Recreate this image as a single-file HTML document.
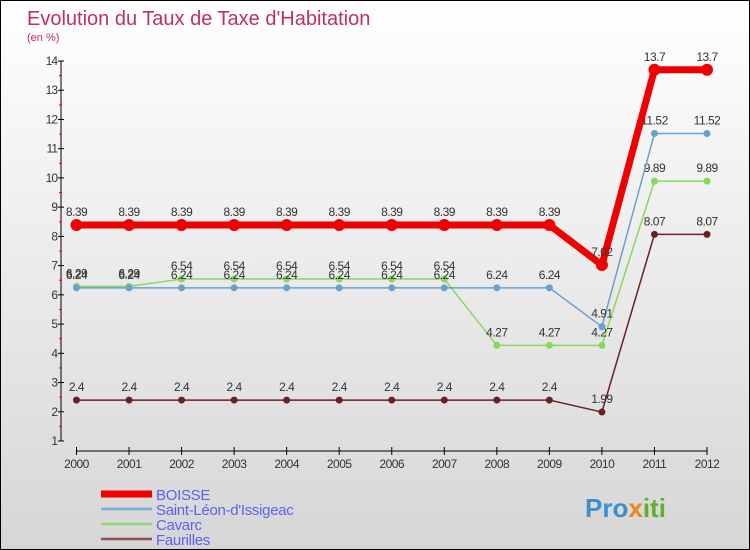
<!DOCTYPE html>
<html><head><meta charset="utf-8"><style>
body{margin:0}
#c{width:750px;height:550px;position:relative;box-sizing:border-box;border:1px solid #000;background:linear-gradient(#ffffff,#d6d6d6);overflow:hidden;font-family:"Liberation Sans",sans-serif}
</style></head><body>
<div id="c">
<svg id="s" width="750" height="550" style="position:absolute;left:0;top:0">
<text x="26" y="24" font-size="20" fill="#c0305f">Evolution du Taux de Taxe d'Habitation</text>
<text x="26" y="40" font-size="11" fill="#c0305f">(en %)</text>
<g id="g"></g>
<text x="584" y="516" font-size="26" font-weight="bold" fill="#3a8fd0">Pro<tspan fill="#f08020">x</tspan><tspan fill="#60b030">iti</tspan></text>
</svg>
</div>
<script>
const years=[2000,2001,2002,2003,2004,2005,2006,2007,2008,2009,2010,2011,2012];
const yTicks=[1,2,3,4,5,6,7,8,9,10,11,12,13,14];
const boisse=[8.39,8.39,8.39,8.39,8.39,8.39,8.39,8.39,8.39,8.39,7.02,13.7,13.7];
const saintLeon=[6.24,6.24,6.24,6.24,6.24,6.24,6.24,6.24,6.24,6.24,4.91,11.52,11.52];
const cavarc=[6.29,6.29,6.54,6.54,6.54,6.54,6.54,6.54,4.27,4.27,4.27,9.89,9.89];
const faurilles=[2.4,2.4,2.4,2.4,2.4,2.4,2.4,2.4,2.4,2.4,1.99,8.07,8.07];
const NS='http://www.w3.org/2000/svg';
const g=document.getElementById('g');
function X(i){return 75.5+i*(630.5/12);}
function Y(v){return 440-(v-1)*(380/13);}
function mk(t,a,p){const e=document.createElementNS(NS,t);for(const k in a)e.setAttribute(k,a[k]);(p||g).appendChild(e);return e;}
let ax=mk('line',{x1:60,y1:Y(14),x2:60,y2:Y(1),stroke:'#000'});


let bx=mk('line',{x1:X(0),y1:450,x2:X(12),y2:450,stroke:'#000'});


yTicks.forEach(v=>{
 mk('line',{x1:57,y1:Y(v),x2:63,y2:Y(v),stroke:'#000'});
 if(v<14) mk('line',{x1:58,y1:Y(v+0.5),x2:61,y2:Y(v+0.5),stroke:'#f00'});
 const t=mk('text',{x:56,y:Y(v)+4,'font-size':12,'text-anchor':'end',fill:'#333','letter-spacing':'-1'});
 t.textContent=v;
 
 
});
years.forEach((y,i)=>{
 mk('line',{x1:X(i),y1:446,x2:X(i),y2:454,stroke:'#000'});
 const t=mk('text',{x:X(i),y:467,'font-size':12,'text-anchor':'middle',fill:'#333','letter-spacing':'-0.5'});
 t.textContent=y;
 
 
});
function series(data,color,w,r,name){
 const grp=mk('g',{});
 
 
 mk('polyline',{points:data.map((v,i)=>X(i)+','+Y(v)).join(' '),fill:'none',stroke:color,'stroke-width':w,'stroke-linejoin':'round'},grp);
 data.forEach((v,i)=>{
  const c=mk('circle',{cx:X(i),cy:Y(v),r:r,fill:color},grp);
  
  
  const t=mk('text',{x:X(i),y:Y(v)-9,'font-size':12,'text-anchor':'middle',fill:'#333','letter-spacing':'-0.5'},grp);
  t.textContent=v;
  
  
 });
}
series(faurilles,'#6b1f22',1.5,3.5,'faurilles');
series(cavarc,'#88d860',1.5,3.5,'cavarc');
series(saintLeon,'#6aa0d0',1.5,3.5,'saint-leon');
series(boisse,'#f00000',7,6,'boisse');
const leg=[['BOISSE','#f00000',7],["Saint-Léon-d'Issigeac",'#7aaed8',2.5],['Cavarc','#90d870',2.5],['Faurilles','#905050',2.5]];
leg.forEach((l,i)=>{
 const y=493+i*15;
 const ln=mk('line',{x1:100,y1:y,x2:151,y2:y,stroke:l[1],'stroke-width':l[2]});
 
 
 const t=mk('text',{x:155,y:y+6,'font-size':15,fill:'#6060f0','letter-spacing':'-0.3'});
 t.textContent=l[0];
 
 
});
</script>
</body></html>
